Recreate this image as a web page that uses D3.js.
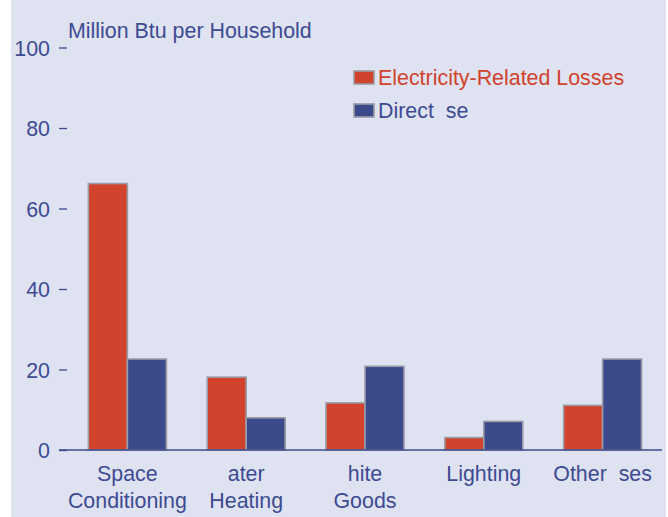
<!DOCTYPE html>
<html><head><meta charset="utf-8">
<script src="https://cdn.jsdelivr.net/npm/d3@7"></script>
<style>html,body{margin:0;padding:0;background:#fff;}svg{display:block;}</style>
</head><body>
<script>
const categories = [["Space","Conditioning"],["ater","Heating"],["hite","Goods"],["Lighting"],["Other  ses"]];
const seriesNames = ["Electricity-Related Losses","Direct  se"];
const lossesValues = [66.2, 18.1, 11.7, 3.1, 11.1];
const directValues = [22.6, 8.0, 20.8, 7.1, 22.6];
const yTicks = [0,20,40,60,80,100];
const yTitle = "Million Btu per Household";

const W = 668, H = 517;
const red = "#d1432d", blue = "#3c4a8c", txt = "#3d4b92", bg = "#dfe2f1", edge = "#9a9ca6";
const font = "'Liberation Sans', Arial, sans-serif";
const fs = 21.4;

const svg = d3.select("body").append("svg").attr("width", W).attr("height", H);
svg.append("rect").attr("x", 11).attr("y", 0).attr("width", 655).attr("height", H).attr("fill", bg);

const x0 = d3.scaleBand().domain(d3.range(categories.length)).range([68, 662]).paddingInner(0.3435).paddingOuter(0.1717);
const x1 = d3.scaleBand().domain([0,1]).range([0, x0.bandwidth()]);
const y = d3.scaleLinear().domain([0, 100]).range([450, 47.5]);

const yAxis = svg.append("g").attr("transform", "translate(68,0)")
  .call(d3.axisLeft(y).tickValues(yTicks).tickSize(9).tickPadding(9).tickFormat(d3.format("d")));
yAxis.select(".domain").remove();
yAxis.selectAll(".tick line").attr("stroke", blue).attr("stroke-width", 1.3).attr("x1", -9).attr("x2", -1);
yAxis.selectAll(".tick text").attr("fill", txt).attr("font-family", font).attr("font-size", fs).attr("dy", "0.36em");

svg.append("text").attr("x", 68).attr("y", 38).attr("fill", txt).attr("font-family", font).attr("font-size", fs).text(yTitle);

const data = [lossesValues, directValues];
const colors = [red, blue];
const g = svg.append("g");
categories.forEach((c, i) => {
  [0,1].forEach(s => {
    const v = data[s][i];
    g.append("rect")
      .attr("x", x0(i) + x1(s))
      .attr("y", y(v))
      .attr("width", x1.bandwidth())
      .attr("height", y(0) - y(v))
      .attr("fill", colors[s])
      .attr("stroke", edge).attr("stroke-width", 1.6);
  });
});

svg.append("line").attr("x1", 59).attr("x2", 662).attr("y1", y(0)).attr("y2", y(0)).attr("stroke", blue).attr("stroke-width", 1.5);

categories.forEach((lines, i) => {
  const cx = x0(i) + x0.bandwidth()/2;
  const t = svg.append("text").attr("text-anchor", "middle").attr("fill", txt).attr("font-family", font).attr("font-size", fs)
    .style("white-space", "pre");
  lines.forEach((l, k) => t.append("tspan").attr("x", cx).attr("y", 481 + k*27).text(l));
});

const leg = svg.append("g");
seriesNames.forEach((n, k) => {
  leg.append("rect").attr("x", 354).attr("y", 71 + k*33).attr("width", 20).attr("height", 13)
    .attr("fill", colors[k]).attr("stroke", edge).attr("stroke-width", 1.6);
  leg.append("text").attr("x", 378).attr("y", 85 + k*33).attr("fill", k === 0 ? red : txt).attr("font-family", font).attr("font-size", fs)
    .style("white-space", "pre").text(n);
});
</script>
</body></html>
